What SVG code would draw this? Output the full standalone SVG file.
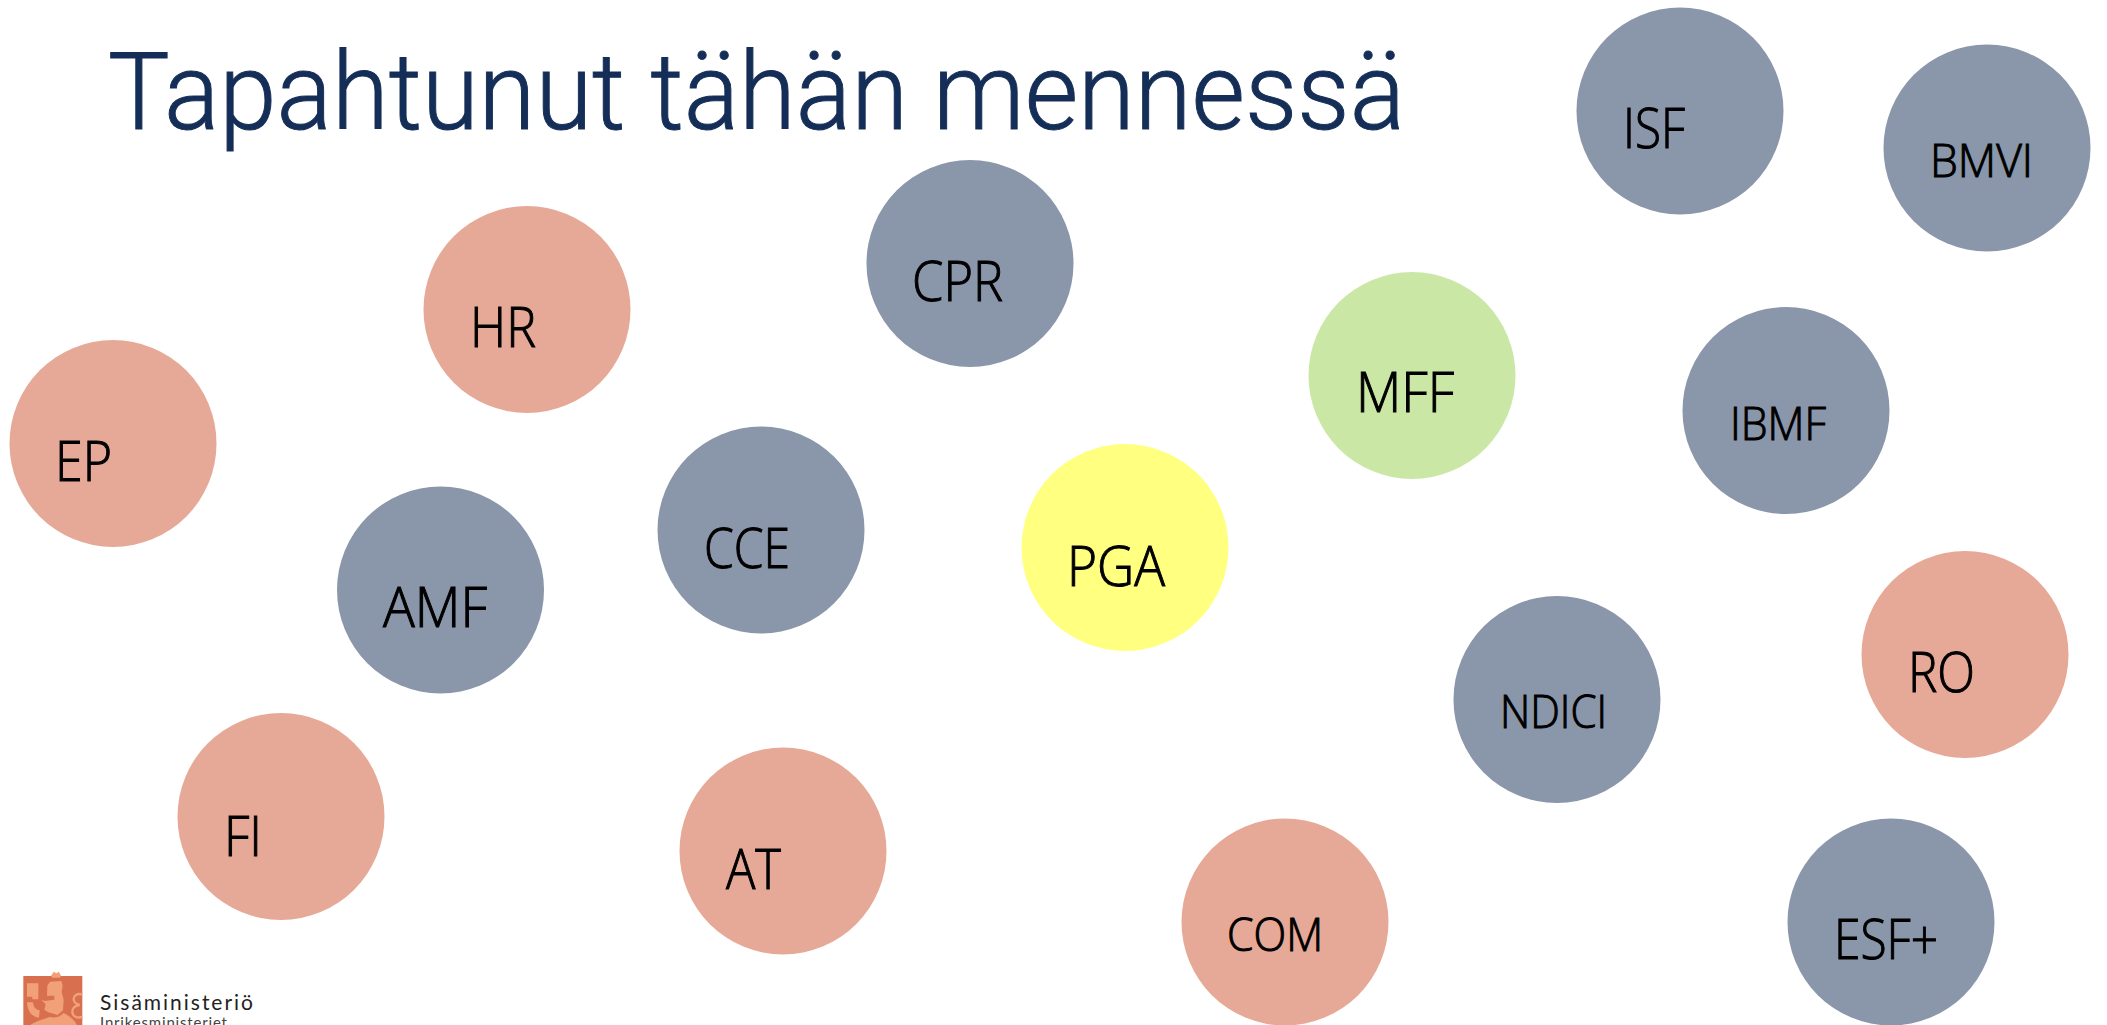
<svg xmlns="http://www.w3.org/2000/svg" width="2107" height="1025" viewBox="0 0 2107 1025">
<style>
.b{fill:#8a96a9}.s{fill:#e7a997}
circle{stroke:none}
.t{font-family:"Open Sans","Noto Sans",sans-serif;fill:#000;font-size:55px;font-weight:300;stroke:#000;stroke-width:1px}
.m{font-size:46px}
.o{fill:#f2a077}
</style>
<defs><filter id="soft" x="-5%" y="-5%" width="110%" height="110%"><feGaussianBlur stdDeviation="0.5"/></filter></defs>
<rect width="2107" height="1025" fill="#fff"/>
<text id="title" x="108" y="129" textLength="1297" lengthAdjust="spacingAndGlyphs" font-family="Roboto, sans-serif" font-weight="300" font-size="108" fill="#152e57" stroke="#152e57" stroke-width="1">Tapahtunut tähän mennessä</text>
<g id="ISF"><circle class="b" cx="1680" cy="111" r="103.500"/><text class="t" x="1623" y="148" textLength="62" lengthAdjust="spacingAndGlyphs">ISF</text></g>
<g id="BMVI"><circle class="b" cx="1987" cy="148" r="103.500"/><text class="t m" x="1930" y="177" textLength="103" lengthAdjust="spacingAndGlyphs">BMVI</text></g>
<g id="CPR"><circle class="b" cx="970" cy="263.500" r="103.500"/><text class="t" x="912" y="301" textLength="91" lengthAdjust="spacingAndGlyphs">CPR</text></g>
<g id="HR"><circle class="s" cx="527" cy="309.500" r="103.500"/><text class="t" x="470" y="347" textLength="66" lengthAdjust="spacingAndGlyphs">HR</text></g>
<g id="MFF"><circle cx="1412" cy="375.500" r="103.500" fill="#cbe7a6"/><text class="t" x="1356" y="412" textLength="98" lengthAdjust="spacingAndGlyphs">MFF</text></g>
<g id="IBMF"><circle class="b" cx="1786" cy="410.500" r="103.500"/><text class="t m" x="1730" y="440" textLength="96" lengthAdjust="spacingAndGlyphs">IBMF</text></g>
<g id="EP"><circle class="s" cx="113" cy="443.500" r="103.500"/><text class="t" x="55" y="481" textLength="57" lengthAdjust="spacingAndGlyphs">EP</text></g>
<g id="CCE"><circle class="b" cx="761" cy="530" r="103.500"/><text class="t" x="704" y="568" textLength="86" lengthAdjust="spacingAndGlyphs">CCE</text></g>
<g id="PGA"><circle cx="1125" cy="547.500" r="103.500" fill="#ffff80"/><text class="t" x="1067" y="586" textLength="98" lengthAdjust="spacingAndGlyphs">PGA</text></g>
<g id="AMF"><circle class="b" cx="440.500" cy="590" r="103.500"/><text class="t" x="383" y="627" textLength="104" lengthAdjust="spacingAndGlyphs">AMF</text></g>
<g id="RO"><circle class="s" cx="1965" cy="654.500" r="103.500"/><text class="t" x="1908" y="692" textLength="67" lengthAdjust="spacingAndGlyphs">RO</text></g>
<g id="NDICI"><circle class="b" cx="1557" cy="699.500" r="103.500"/><text class="t m" x="1500" y="728" textLength="107" lengthAdjust="spacingAndGlyphs">NDICI</text></g>
<g id="FI"><circle class="s" cx="281" cy="816.500" r="103.500"/><text class="t" x="224" y="856" textLength="38" lengthAdjust="spacingAndGlyphs">FI</text></g>
<g id="AT"><circle class="s" cx="783" cy="851" r="103.500"/><text class="t" x="726" y="889" textLength="55" lengthAdjust="spacingAndGlyphs">AT</text></g>
<g id="COM"><circle class="s" cx="1285" cy="922" r="103.500"/><text class="t m" x="1227" y="951" textLength="96" lengthAdjust="spacingAndGlyphs">COM</text></g>
<g id="ESFplus"><circle class="b" cx="1891" cy="922" r="103.500"/><text class="t" x="1834" y="959" textLength="104" lengthAdjust="spacingAndGlyphs">ESF+</text></g>
<g id="logo" filter="url(#soft)">
<g transform="translate(15 965) scale(.3333)">
<rect x="25" y="33" width="177" height="147" fill="#d8704f"/>
<path class="o" d="M108 33l8-13 8 5 8-5 6 13-4 5H112zM36 55h34v48H52v-8H36z"/>
<path class="o" d="M97 62l8-12 34-2 4 14-3 18 6 26-2 30-16 14-28-8-12-8 4-16-12-12 16-14z"/>
<path fill="#d8704f" d="M76 92l42 0 0 12-30 4-12-6z"/>
<path class="o" d="M36 112h18c2 16 8 22 20 24l-2 22c-20-2-34-16-36-46z"/>
<path class="o" d="M46 180c14-10 40-18 58-24 16 4 30 0 42-12 18 10 34 22 40 36z"/>
<path fill="none" stroke="#f2a077" stroke-width="7" d="M202 88c-16-4-26 4-26 14s10 16 18 18c-14 2-24 10-22 22 2 14 16 18 30 14"/>
</g>
</g>
<text x="100" y="1010" textLength="153" font-family="Lato, sans-serif" font-size="21" fill="#222">Sisäministeriö</text>
<text x="100" y="1028" textLength="127" font-family="Lato, sans-serif" font-size="15" fill="#444">Inrikesministeriet</text>
</svg>
